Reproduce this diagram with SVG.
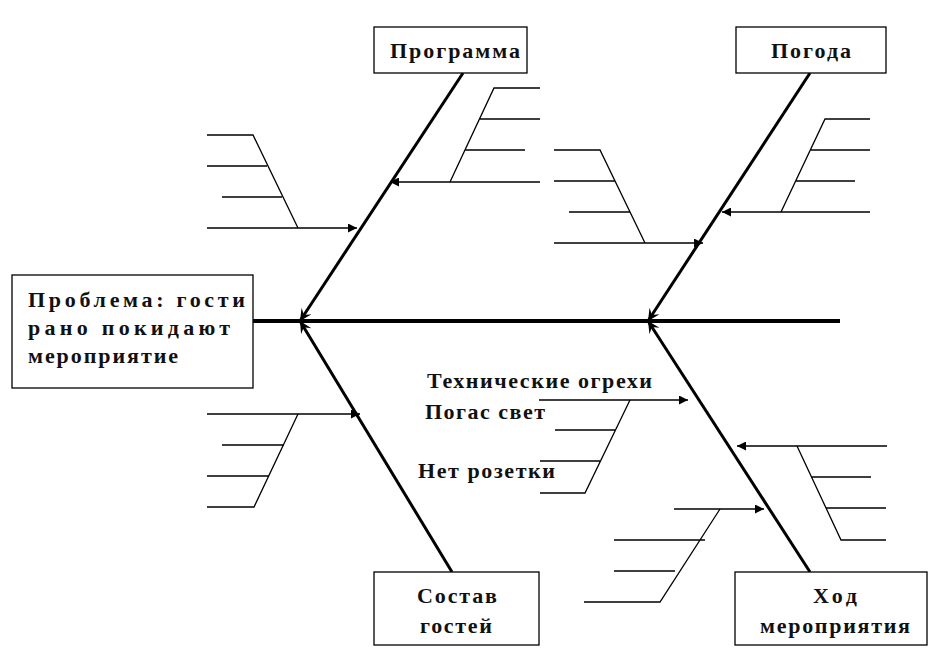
<svg xmlns="http://www.w3.org/2000/svg" width="945" height="668" viewBox="0 0 945 668">
<style>
.box{fill:#fff;stroke:#000;stroke-width:1.3}
.t{font-family:"Liberation Serif",serif;font-weight:bold;font-size:22px;fill:#111}
.bone{stroke:#000;stroke-width:3;fill:none}
.thin{stroke:#000;stroke-width:1.3;fill:none}
</style>
<defs>
<marker id="a" viewBox="0 0 10 10" refX="10" refY="5" markerWidth="11" markerHeight="9" markerUnits="userSpaceOnUse" orient="auto"><path d="M0,0L10,5L0,10z" fill="#000"/></marker>
<marker id="b" viewBox="0 0 10 10" refX="10" refY="5" markerWidth="14" markerHeight="12" markerUnits="userSpaceOnUse" orient="auto"><path d="M0,0L10,5L0,10L4,5z" fill="#000"/></marker>
</defs>
<rect width="945" height="668" fill="#fff"/>
<g id="connectors">
<line x1="253" y1="321" x2="840" y2="321" stroke="#000" stroke-width="4"/>
<line class="bone" x1="463" y1="73" x2="300" y2="321" marker-end="url(#b)"/>
<line class="bone" x1="810" y1="73" x2="648" y2="321" marker-end="url(#b)"/>
<line class="bone" x1="452" y1="572" x2="300" y2="321" marker-end="url(#b)"/>
<line class="bone" x1="810" y1="572" x2="648" y2="321" marker-end="url(#b)"/>
<g class="thin">
<line x1="540" y1="182" x2="390" y2="182" marker-end="url(#a)"/>
<path d="M450,182L494,88H540M479,119H540M465,150H525"/>
<line x1="207" y1="228" x2="357" y2="228" marker-end="url(#a)"/>
<path d="M298,228L253,135H207M207,166H267M222,197H282"/>
<line x1="870" y1="212" x2="722" y2="212" marker-end="url(#a)"/>
<path d="M781,212L825,119H870M811,150H870M796,181H855"/>
<line x1="554" y1="243" x2="703" y2="243" marker-end="url(#a)"/>
<path d="M645,243L600,150H554M554,181H615M569,212H630"/>
<line x1="207" y1="414" x2="360" y2="414" marker-end="url(#a)"/>
<path d="M298,414L254,507H207M222,445H284M207,476H269"/>
<line x1="539" y1="400" x2="688" y2="400" marker-end="url(#a)"/>
<path d="M630,400L585,493H540M555,430H615M540,461H600"/>
<line x1="887" y1="446" x2="737" y2="446" marker-end="url(#a)"/>
<path d="M797,446L841,540H886M812,477H871M826,508H886"/>
<line x1="674" y1="509" x2="764" y2="509" marker-end="url(#a)"/>
<path d="M720,509L660,602H584M614,540H705M614,571H675"/>
</g>
</g>
<g id="problem"><rect class="box" x="12" y="275" width="241" height="113"/>
<text class="t" x="28" y="307" textLength="217" lengthAdjust="spacing">Проблема: гости</text><text class="t" x="28" y="335" textLength="202" lengthAdjust="spacing">рано покидают</text><text class="t" x="28" y="363" textLength="150" lengthAdjust="spacing">мероприятие</text></g>
<g id="programma"><rect class="box" x="374" y="27" width="153" height="46"/><text class="t" x="390" y="58" textLength="130" lengthAdjust="spacing">Программа</text></g>
<g id="pogoda"><rect class="box" x="736" y="27" width="150" height="46"/><text class="t" x="771" y="58" textLength="80" lengthAdjust="spacing">Погода</text></g>
<g id="sostav"><rect class="box" x="374" y="572" width="165" height="73"/><text class="t" x="417" y="603" textLength="80" lengthAdjust="spacing">Состав</text><text class="t" x="420" y="633" textLength="72" lengthAdjust="spacing">гостей</text></g>
<g id="hod"><rect class="box" x="735" y="572" width="192" height="73"/><text class="t" x="813" y="603" textLength="44" lengthAdjust="spacing">Ход</text><text class="t" x="760" y="633" textLength="150" lengthAdjust="spacing">мероприятия</text></g>
<g id="labels">
<text class="t" x="427" y="388" textLength="225" lengthAdjust="spacing">Технические огрехи</text>
<text class="t" x="425" y="419" textLength="120" lengthAdjust="spacing">Погас свет</text>
<text class="t" x="418" y="478" textLength="137" lengthAdjust="spacing">Нет розетки</text>
</g>
</svg>
